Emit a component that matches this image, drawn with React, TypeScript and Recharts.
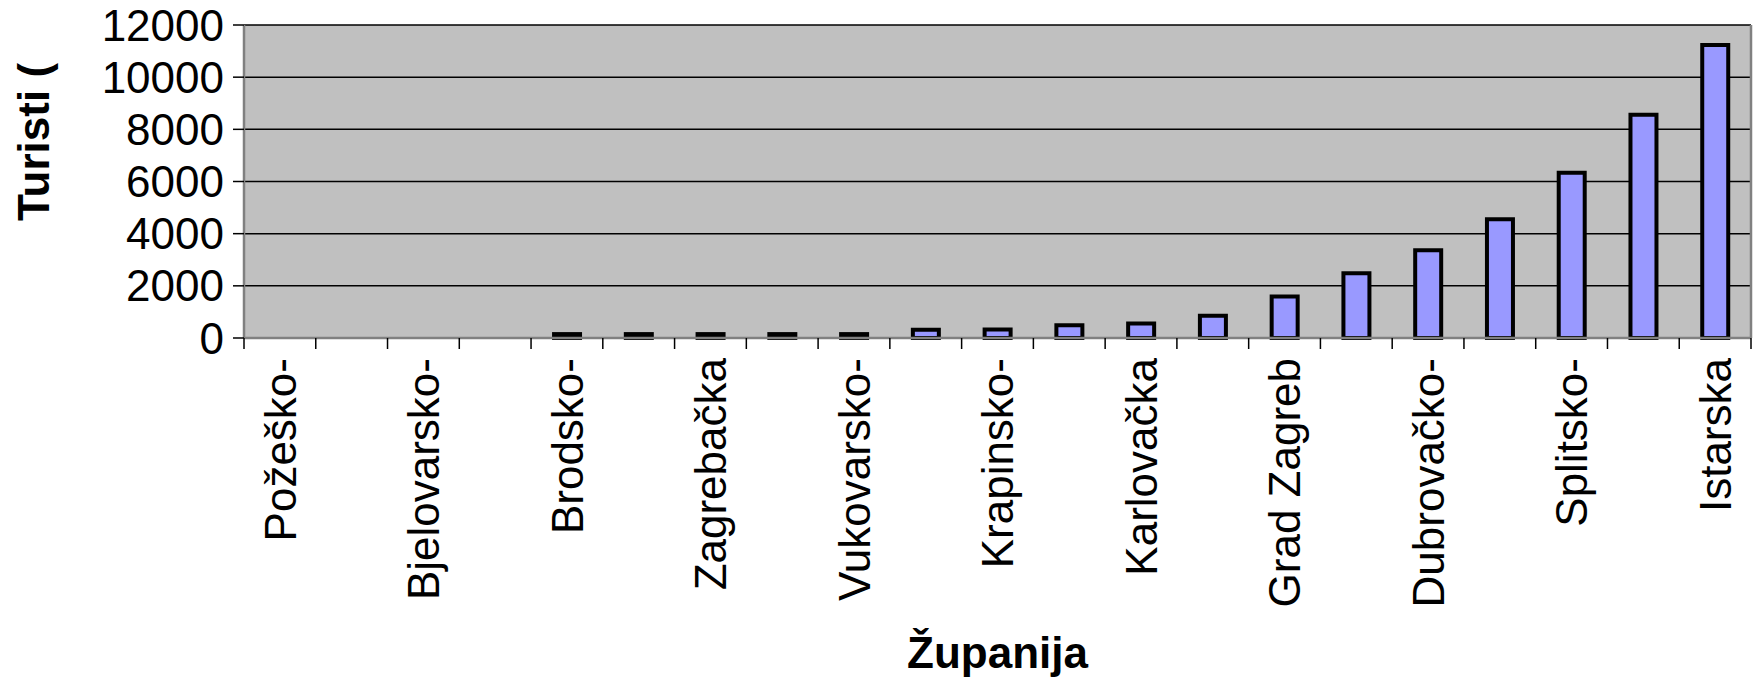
import { Bar, BarChart, CartesianGrid, XAxis, YAxis } from "recharts";

const categories = [
  "Požeško-",
  "Virovitičko-",
  "Bjelovarsko-",
  "Koprivničko-",
  "Brodsko-",
  "Sisačko-",
  "Zagrebačka",
  "Osječko-",
  "Vukovarsko-",
  "Međimurska",
  "Krapinsko-",
  "Varaždinska",
  "Karlovačka",
  "Ličko-",
  "Grad Zagreb",
  "Šibensko-",
  "Dubrovačko-",
  "Zadarska",
  "Splitsko-",
  "Primorsko-",
  "Istarska",
];

const tourists = [
  0, 0, 0, 0, 150, 150, 150, 150, 150, 320, 330, 490, 560, 850, 1590, 2480,
  3360, 4550, 6340, 8560, 11230,
];

const yTicks = [0, 2000, 4000, 6000, 8000, 10000, 12000];

const xTitle = "Županija";
const yTitle = "Turisti (";

const data = categories.map((name, i) => ({ name, value: tourists[i] }));

const W = 1754;
const H = 681;
const PLOT_LEFT = 244;
const PLOT_RIGHT = 1751;
const PLOT_TOP = 25;
const PLOT_BOTTOM = 338;
const BAND = (PLOT_RIGHT - PLOT_LEFT) / categories.length;
const FONT = '"Liberation Sans", Arial, sans-serif';

function CategoryTick(props: any) {
  const { x, payload, index } = props;
  const half = payload?.offset || BAND / 2;
  const last = index === categories.length - 1;
  return (
    <g>
      <line
        x1={x - half}
        x2={x - half}
        y1={PLOT_BOTTOM}
        y2={PLOT_BOTTOM + 11}
        stroke="#000"
        strokeWidth={1.5}
      />
      {last && (
        <line
          x1={x + half}
          x2={x + half}
          y1={PLOT_BOTTOM}
          y2={PLOT_BOTTOM + 11}
          stroke="#000"
          strokeWidth={1.5}
        />
      )}
      {index % 2 === 0 && (
        <text
          transform={`translate(${x},${PLOT_BOTTOM + 20}) rotate(-90)`}
          textAnchor="end"
          dy="0.36em"
          fontSize={44}
          fontFamily={FONT}
          fill="#000"
        >
          {payload.value}
        </text>
      )}
    </g>
  );
}

export default function App() {
  return (
    <div style={{ position: "absolute", left: 0, top: 0, width: W, height: H, background: "#fff" }}>
      <BarChart
        width={W}
        height={H}
        data={data}
        margin={{ top: PLOT_TOP, right: W - PLOT_RIGHT - 3, left: PLOT_LEFT - 150, bottom: 0 }}
        barSize={26}
      >
        <CartesianGrid
          fill="#c0c0c0"
          stroke="#000"
          strokeWidth={1.5}
          vertical={false}
          yAxisId="main"
          xAxisId="main"
        />
        <XAxis
          xAxisId="main"
          dataKey="name"
          height={H - PLOT_BOTTOM}
          interval={0}
          tickLine={false}
          axisLine={{ stroke: "#808080", strokeWidth: 2.5 }}
          tick={<CategoryTick />}
          label={{
            content: () => (
              <text
                x={(PLOT_LEFT + PLOT_RIGHT) / 2}
                y={668}
                textAnchor="middle"
                fontSize={44}
                fontWeight="bold"
                fontFamily={FONT}
                fill="#000"
              >
                {xTitle}
              </text>
            ),
          }}
        />
        <XAxis
          xAxisId="top"
          orientation="top"
          dataKey="name"
          height={0}
          tick={false}
          tickLine={false}
          axisLine={{ stroke: "#808080", strokeWidth: 2.5 }}
        />
        <YAxis
          yAxisId="main"
          width={150}
          domain={[0, 12000]}
          ticks={yTicks}
          interval={0}
          tickSize={11}
          tickMargin={9}
          tickLine={{ stroke: "#000", strokeWidth: 1.5 }}
          axisLine={{ stroke: "#808080", strokeWidth: 2.5 }}
          tick={{ fontSize: 44, fill: "#000", fontFamily: FONT }}
          label={{
            content: () => (
              <text
                transform="translate(49,221) rotate(-90)"
                textAnchor="start"
                fontSize={44}
                fontWeight="bold"
                fontFamily={FONT}
                fill="#000"
              >
                {yTitle}
              </text>
            ),
          }}
        />
        <YAxis
          yAxisId="right"
          orientation="right"
          width={3}
          domain={[0, 12000]}
          tick={false}
          tickLine={false}
          axisLine={{ stroke: "#808080", strokeWidth: 2.5 }}
        />
        <Bar
          xAxisId="main"
          yAxisId="main"
          dataKey="value"
          fill="#9999ff"
          stroke="#000"
          strokeWidth={4}
          isAnimationActive={false}
        />
      </BarChart>
    </div>
  );
}
